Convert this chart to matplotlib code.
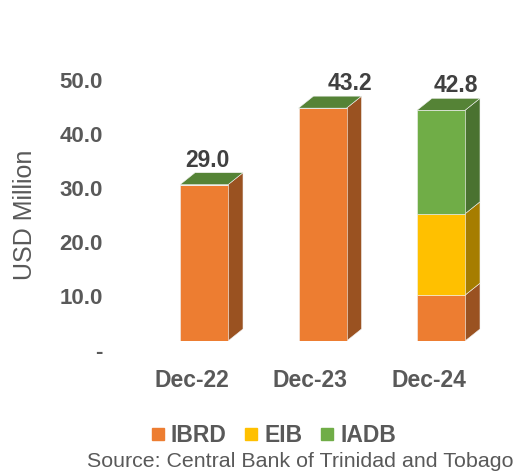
import numpy as np
import matplotlib
matplotlib.use("Agg")
import matplotlib.pyplot as plt
from matplotlib.patches import Polygon
from matplotlib.lines import Line2D
from matplotlib.transforms import ScaledTranslation

plt.rcParams['font.family'] = ['Liberation Sans', 'DejaVu Sans']

# data
categories = ["Dec-22", "Dec-23", "Dec-24"]
ibrd = [29.0, 43.2, 8.5]
eib = [0.0, 0.0, 15.1]
iadb = [0.0, 0.0, 19.2]
totals = ["29.0", "43.2", "42.8"]
series_names = ["IBRD", "EIB", "IADB"]
yticks = [0, 10, 20, 30, 40, 50]
ytick_labels = ["-", "10.0", "20.0", "30.0", "40.0", "50.0"]

front_colors = ["#ED7D31", "#FFC000", "#70AD47"]
side_colors = ["#9A5221", "#A67D00", "#4A7230"]
top_color = "#558336"
grey = "#595959"

W, H, DPI = 513, 472, 100
fig = plt.figure(figsize=(W / DPI, H / DPI), dpi=DPI)

# axes placement in pixels
xlim = (-0.8, 2.6)
ylim = (0, 55)
px_x = 118.5      # px per category
px_y = 5.39       # px per unit
left_px = 204 - (0 - xlim[0]) * px_x
bottom_px = 131
ax = fig.add_axes([left_px / W, bottom_px / H,
                   (xlim[1] - xlim[0]) * px_x / W, (ylim[1] - ylim[0]) * px_y / H])
ax.set_xlim(*xlim)
ax.set_ylim(*ylim)

bar_w = 48 / px_x
dx = 15 / px_x
dy = 12 / px_y

x = np.arange(len(categories))
bottoms = np.zeros(len(categories))
for vals, fc, sc in zip([ibrd, eib, iadb], front_colors, side_colors):
    vals = np.array(vals)
    ax.bar(x, vals, bar_w, bottom=bottoms, color=fc, edgecolor="#f2f2f2",
           linewidth=0.4, zorder=3)
    for xi, b, v in zip(x, bottoms, vals):
        if v <= 0:
            continue
        r = xi + bar_w / 2
        side = Polygon([(r, b), (r + dx, b + dy), (r + dx, b + v + dy), (r, b + v)],
                       closed=True, facecolor=sc, edgecolor="#f2f2f2",
                       linewidth=0.4, zorder=2)
        ax.add_patch(side)
    bottoms = bottoms + vals

# top faces and value labels
label_dx_px = [3, 27, 15]
for xi, top, lab, ddx in zip(x, bottoms, totals, label_dx_px):
    l, r = xi - bar_w / 2, xi + bar_w / 2
    ax.add_patch(Polygon([(l, top), (l + dx, top + dy), (r + dx, top + dy), (r, top)],
                         closed=True, facecolor=top_color, edgecolor="#f2f2f2",
                         linewidth=0.4, zorder=4))
    ax.annotate(lab, (xi, top + dy), xytext=(ddx * 72 / DPI, 6 * 72 / DPI),
                textcoords="offset points", ha="center", va="baseline",
                fontsize=16.5, fontweight="bold", color="#404040")

for s in ax.spines.values():
    s.set_visible(False)

ax.set_yticks(yticks)
ax.set_yticklabels(ytick_labels)
ax.set_xticks(x)
ax.set_xticklabels(categories)
ax.tick_params(axis="y", length=0, pad=4.5, labelsize=16, labelcolor=grey)
ax.tick_params(axis="x", length=0, pad=20, labelsize=16.5, labelcolor=grey)
for t in ax.get_yticklabels():
    t.set_fontweight("bold")
    t.set_transform(t.get_transform() + ScaledTranslation(0, -9 / DPI, fig.dpi_scale_trans))
for t in ax.get_xticklabels():
    t.set_fontweight("bold")
    t.set_transform(t.get_transform() + ScaledTranslation(-12 / DPI, 0, fig.dpi_scale_trans))

fig.text(25 / W, 1 - 214.5 / H, "USD Million", rotation=90, ha="center", va="center",
         fontsize=18, color=grey)

handles = [Line2D([], [], marker="s", linestyle="none", markersize=8,
                  markerfacecolor=c, markeredgecolor=c) for c in front_colors]
leg = fig.legend(handles, series_names, loc="center", bbox_to_anchor=(274 / W, 1 - 436 / H),
                 ncol=3, frameon=False, handlelength=0.5, handletextpad=0.3,
                 columnspacing=0.85, borderaxespad=0, borderpad=0,
                 prop={"size": 16.5, "weight": "bold"})
for t in leg.get_texts():
    t.set_color(grey)

fig.text(87 / W, 1 - 467 / H, "Source: Central Bank of Trinidad and Tobago",
         ha="left", va="baseline", fontsize=15.4, color=grey)

fig.savefig("out.png", dpi=DPI)
